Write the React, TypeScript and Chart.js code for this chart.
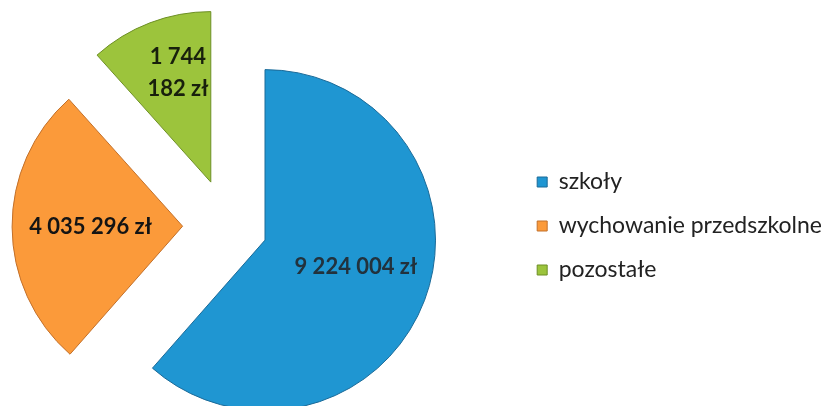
import React, { useEffect, useRef } from "react";
import { Chart, registerables } from "chart.js";

Chart.register(...registerables);

const categories = ["szkoły", "wychowanie przedszkolne", "pozostałe"];
const values = [9224004, 4035296, 1744182];

const sliceColors = ["#1f96d2", "#fb9a3a", "#9cc43c"];
const sliceBorders = ["#1b6a98", "#c2702a", "#6d8f25"];
const explode = [40, 45, 47];
const labelAngleFrac = [0.48, 0.5, 0.6];
const labelRadiusFrac = [0.555, 0.54, 0.67];
const labelMaxWidth = [400, 400, 70];
const labelColors = ["#22323d", "#141414", "#18200c"];

const formatPLN = (v: number) =>
  v.toString().replace(/\B(?=(\d{3})+(?!\d))/g, " ") + " zł";

const wrap = (ctx: CanvasRenderingContext2D, text: string, maxW: number) => {
  const words = text.split(" ");
  const lines: string[] = [];
  let cur = "";
  for (const w of words) {
    const t = cur ? cur + " " + w : w;
    if (cur && ctx.measureText(t).width > maxW) {
      lines.push(cur);
      cur = w;
    } else cur = t;
  }
  if (cur) lines.push(cur);
  return lines;
};

const explodePlugin = {
  id: "explodeSlices",
  afterDatasetsUpdate(chart: any) {
    const meta = chart.getDatasetMeta(0);
    meta.data.forEach((arc: any, i: number) => {
      const mid = (arc.startAngle + arc.endAngle) / 2;
      arc.x += Math.cos(mid) * explode[i];
      arc.y += Math.sin(mid) * explode[i];
    });
  },
};

const labelPlugin = {
  id: "sliceLabels",
  afterDatasetsDraw(chart: any) {
    const ctx: CanvasRenderingContext2D = chart.ctx;
    const meta = chart.getDatasetMeta(0);
    meta.data.forEach((arc: any, i: number) => {
      const { x, y, startAngle, endAngle, outerRadius } = arc;
      const a = startAngle + (endAngle - startAngle) * labelAngleFrac[i];
      const r = outerRadius * labelRadiusFrac[i];
      const cx = x + Math.cos(a) * r;
      const cy = y + Math.sin(a) * r;
      ctx.save();
      ctx.font = "bold 22px Lato";
      ctx.fillStyle = labelColors[i];
      ctx.textAlign = "center";
      ctx.textBaseline = "middle";
      const lines = wrap(ctx, formatPLN(values[i]), labelMaxWidth[i]);
      const lh = 32;
      lines.forEach((ln, k) => {
        ctx.fillText(ln, cx, cy + (k - (lines.length - 1) / 2) * lh);
      });
      ctx.restore();
    });
  },
};

export default function App() {
  const ref = useRef<HTMLCanvasElement>(null);
  useEffect(() => {
    if (!ref.current) return;
    const chart = new Chart(ref.current, {
      type: "pie",
      data: {
        labels: categories,
        datasets: [
          {
            data: values,
            backgroundColor: sliceColors,
            borderColor: sliceBorders,
            borderWidth: 1,
          },
        ],
      },
      options: {
        responsive: false,
        animation: false,
        events: [],
        layout: { padding: { top: 55, bottom: 9, left: 0, right: 0 } },
        plugins: {
          tooltip: { enabled: false },
          legend: {
            position: "right",
            labels: {
              boxWidth: 10,
              boxHeight: 10,
              padding: 21,
              color: "#222222",
              font: { family: "Lato", size: 23 },
            },
          },
        },
      },
      plugins: [explodePlugin, labelPlugin],
    });
    return () => chart.destroy();
  }, []);
  return (
    <div
      style={{
        position: "fixed",
        left: 0,
        top: 0,
        width: 825,
        height: 406,
        overflow: "hidden",
        background: "#fff",
      }}
    >
      <canvas
        ref={ref}
        width={893}
        height={406}
        style={{ position: "absolute", left: -61, top: 0 }}
      />
    </div>
  );
}
